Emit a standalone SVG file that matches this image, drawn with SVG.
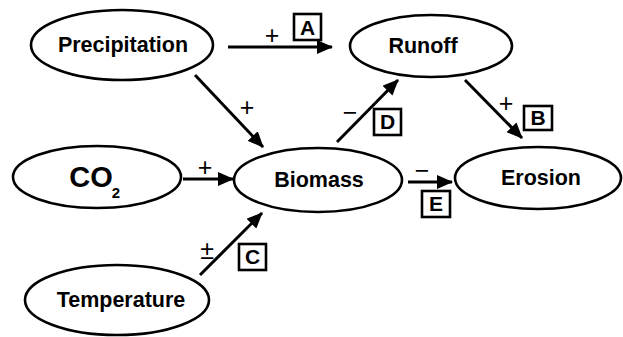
<svg xmlns="http://www.w3.org/2000/svg" width="623" height="337" viewBox="0 0 623 337">
<style>
.node ellipse{fill:#fff;stroke:#000;stroke-width:2.6}
.lbl{font-family:"Liberation Sans",Arial,sans-serif;font-weight:bold;font-size:21.5px;text-anchor:middle;fill:#000}
.edge line{stroke:#000;stroke-width:3;marker-end:url(#ah)}
.sign{font-family:"Liberation Sans",Arial,sans-serif;font-size:25px;text-anchor:middle;fill:#000}
.box rect{fill:#fff;stroke:#000;stroke-width:2.6}
.box text{font-family:"Liberation Sans",Arial,sans-serif;font-weight:bold;font-size:21px;text-anchor:middle;fill:#000}
</style>
<defs>
<marker id="ah" markerUnits="userSpaceOnUse" markerWidth="16" markerHeight="14" refX="15" refY="7" orient="auto">
<path d="M0,0 L16,7 L0,14 Z" fill="#000"/>
</marker>
</defs>
<rect width="623" height="337" fill="#fff"/>
<g id="precipitation" class="node"><ellipse cx="122" cy="45" rx="91" ry="35"/><text class="lbl" x="123" y="52">Precipitation</text></g>
<g id="runoff" class="node"><ellipse cx="431" cy="46" rx="81" ry="31"/><text class="lbl" x="423" y="53">Runoff</text></g>
<g id="co2" class="node"><ellipse cx="97" cy="177" rx="84" ry="31"/><text class="lbl" x="91" y="187" style="font-size:29px">CO</text><text class="lbl" x="116" y="198" style="font-size:15px">2</text></g>
<g id="biomass" class="node"><ellipse cx="318" cy="180" rx="84" ry="32"/><text class="lbl" x="319" y="187">Biomass</text></g>
<g id="erosion" class="node"><ellipse cx="538" cy="178" rx="83" ry="31"/><text class="lbl" x="541" y="185">Erosion</text></g>
<g id="temperature" class="node"><ellipse cx="117" cy="300" rx="92" ry="35"/><text class="lbl" x="121" y="307">Temperature</text></g>
<g id="connectors">
<g class="edge">
<line x1="228" y1="47" x2="332" y2="47"/>
<line x1="195" y1="75" x2="263" y2="147"/>
<line x1="183" y1="179" x2="233" y2="179"/>
<line x1="200" y1="275" x2="262" y2="213"/>
<line x1="337" y1="142" x2="398" y2="80"/>
<line x1="465" y1="80" x2="522" y2="138"/>
<line x1="408" y1="182" x2="452" y2="182"/>
</g>
<text class="sign" x="272" y="44">+</text>
<text class="sign" x="247" y="116">+</text>
<text class="sign" x="205" y="176">+</text>
<text class="sign" x="207" y="259">±</text>
<text class="sign" x="350" y="121">−</text>
<text class="sign" x="506" y="112">+</text>
<text class="sign" x="422" y="179">−</text>
<g class="box"><rect x="294" y="14" width="27" height="26"/><text x="307.5" y="35">A</text></g>
<g class="box"><rect x="524" y="106" width="28" height="24"/><text x="538" y="125">B</text></g>
<g class="box"><rect x="239" y="244" width="27" height="26"/><text x="252.5" y="264">C</text></g>
<g class="box"><rect x="374" y="109" width="27" height="26"/><text x="387.5" y="129">D</text></g>
<g class="box"><rect x="422" y="191" width="28" height="26"/><text x="436" y="211">E</text></g>
</g>
</svg>
